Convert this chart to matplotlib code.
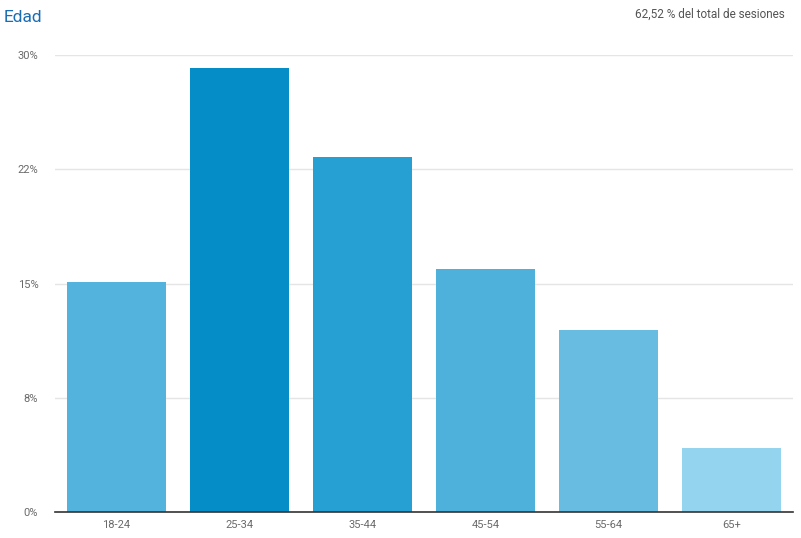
import matplotlib
matplotlib.use("Agg")
import matplotlib.pyplot as plt

categories = ["18-24", "25-34", "35-44", "45-54", "55-64", "65+"]
values = [15.1, 29.15, 23.3, 15.95, 11.95, 4.2]
bar_colors = ["#53B3DC", "#058DC7", "#269FD3", "#4EB1DB", "#68BCE1", "#95D4EE"]
yticks = [0, 7.5, 15, 22.5, 30]
ytick_labels = ["0%", "8%", "15%", "22%", "30%"]

plt.rcParams['font.family'] = ['Roboto', 'DejaVu Sans']

fig = plt.figure(figsize=(8.01, 5.38), dpi=100)
ax = fig.add_axes([55/801, 26/538, (793-55)/801, (512-55)/538])

x = list(range(len(categories)))
ax.bar(x, values, width=0.8, color=bar_colors, zorder=3)
ax.set_xlim(-0.5, len(categories) - 0.5)
ax.set_ylim(0, 30)
ax.set_yticks(yticks)
ax.set_yticklabels(ytick_labels)
ax.set_xticks(x)
ax.set_xticklabels(categories)
ax.grid(axis='y', color='#E5E5E5', linewidth=1, zorder=0)
for s in ['top', 'right', 'left']:
    ax.spines[s].set_visible(False)
ax.spines['bottom'].set_color('#333333')
ax.spines['bottom'].set_linewidth(1.2)
ax.spines['bottom'].set_zorder(4)
ax.tick_params(axis='both', length=0, labelsize=8, labelcolor='#6A6A6A')
ax.tick_params(axis='y', pad=12)
ax.tick_params(axis='x', pad=6)

fig.text(4/801, 1 - 17/538, "Edad", color='#1A6DB3', fontsize=12.5, va='center', ha='left')
fig.text(785/801, 1 - 14/538, "62,52 % del total de sesiones", color='#555555', fontsize=8.5, va='center', ha='right')

fig.savefig("out.png", dpi=100)
